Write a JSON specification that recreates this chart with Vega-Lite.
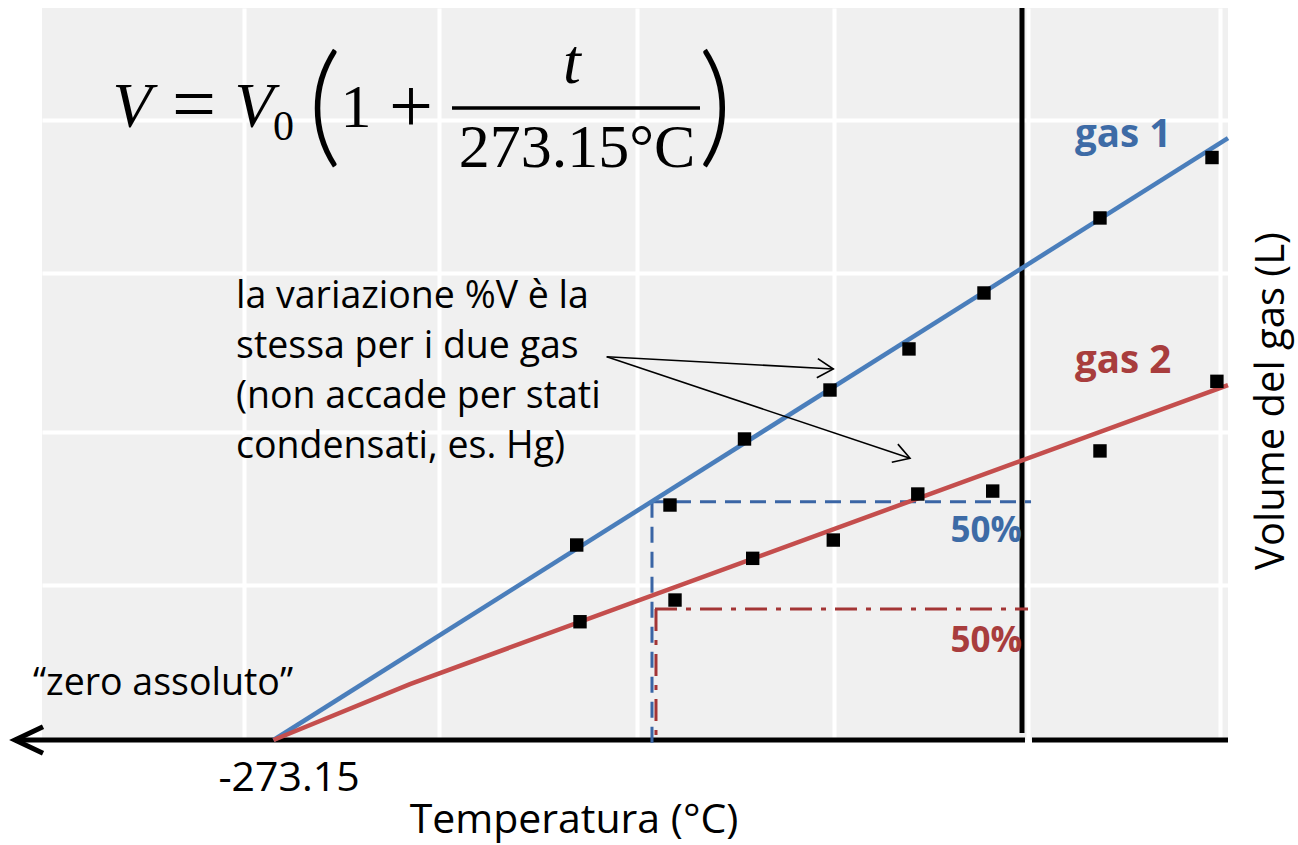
{
  "$schema": "https://vega.github.io/schema/vega-lite/v6.json",
  "width": 1186,
  "height": 732,
  "autosize": {"type": "none"},
  "padding": {"left": 42, "top": 8, "right": 70, "bottom": 105},
  "background": "#ffffff",
  "config": {"view": {"stroke": null, "fill": "#f0f0f0"}},
  "datasets": {
    "pts": [
      {"gas": "gas 1", "t": -162.5, "v": 1.258},
      {"gas": "gas 1", "t": -128.46, "v": 1.516},
      {"gas": "gas 1", "t": -101.27, "v": 1.942},
      {"gas": "gas 1", "t": -70.07, "v": 2.258},
      {"gas": "gas 1", "t": -41.24, "v": 2.523},
      {"gas": "gas 1", "t": -13.87, "v": 2.884},
      {"gas": "gas 1", "t": 28.46, "v": 3.368},
      {"gas": "gas 1", "t": 69.34, "v": 3.758},
      {"gas": "gas 2", "t": -161.3, "v": 0.763},
      {"gas": "gas 2", "t": -126.63, "v": 0.903},
      {"gas": "gas 2", "t": -98.28, "v": 1.172},
      {"gas": "gas 2", "t": -68.86, "v": 1.29},
      {"gas": "gas 2", "t": -38.03, "v": 1.587},
      {"gas": "gas 2", "t": -10.69, "v": 1.606},
      {"gas": "gas 2", "t": 28.46, "v": 1.865},
      {"gas": "gas 2", "t": 71.13, "v": 2.314}
    ],
    "curves": [
      {"gas": "gas 1", "t": -273.15, "v": 0},
      {"gas": "gas 1", "t": 75.18, "v": 3.883},
      {"gas": "gas 2", "t": -273.15, "v": 0},
      {"gas": "gas 2", "t": -223.34, "v": 0.361},
      {"gas": "gas 2", "t": 75.18, "v": 2.29}
    ],
    "frame": [
      {"t": -367.49, "v": 0, "t2": 1.09, "v2": 0},
      {"t": 3.65, "v": 0, "t2": 75.18, "v2": 0},
      {"t": 0, "v": 4.7226, "t2": 0, "v2": 0.0452}
    ],
    "axisArrow": [{"t": -367.49, "v": 0}],
    "bdash": [
      {"t": -135.76, "v": 1.537, "t2": 3.3, "v2": 1.537},
      {"t": -135.03, "v": 1.537, "t2": -135.03, "v2": -0.03}
    ],
    "rdash": [
      {"t": -133.93, "v": 0.845, "t2": 2.19, "v2": 0.845},
      {"t": -133.57, "v": 0.845, "t2": -133.57, "v2": 0}
    ],
    "arrows": [
      {"t": -151.56, "v": 2.4729, "t2": -68.86, "v2": 2.3935},
      {"t": -151.56, "v": 2.4729, "t2": -40.87, "v2": 1.8174}
    ],
    "head1": [{"t": -68.86, "v": 2.3935}],
    "head2": [{"t": -40.87, "v": 1.8174}],
    "note": [
      {"t": -286.84, "v": 2.7871, "s": "la variazione %V è la"},
      {"t": -286.84, "v": 2.4645, "s": "stessa per i due gas"},
      {"t": -286.84, "v": 2.1419, "s": "(non  accade per stati"},
      {"t": -286.84, "v": 1.8194, "s": "condensati, es. Hg)"},
      {"t": -360.92, "v": 0.2903, "s": "“zero assoluto”"}
    ],
    "axisText": [
      {"t": -267.5, "v": -0.329, "s": "-273.15"},
      {"t": -163.49, "v": -0.6, "s": "Temperatura (°C)"}
    ],
    "yTitle": [{"t": 95.6, "v": 2.187, "s": "Volume del gas (L)"}],
    "gas1": [{"t": 19.34, "v": 3.8258, "s": "gas 1"}],
    "gas2": [{"t": 19.34, "v": 2.3677, "s": "gas 2"}],
    "pct1": [{"t": 0, "v": 1.2774, "s": "50%"}],
    "pct2": [{"t": 0, "v": 0.5677, "s": "50%"}],
    "fIt": [
      {"t": -324.79, "v": 3.9548, "s": "V"},
      {"t": -280.27, "v": 3.9548, "s": "V"},
      {"t": -164.22, "v": 4.2387, "s": "t"}
    ],
    "fRm": [
      {"t": -243.05, "v": 3.9548, "s": "1"},
      {"t": -162.4, "v": 3.6968, "s": "273.15°C"}
    ],
    "fBig": [
      {"t": -302.17, "v": 3.935, "s": "="},
      {"t": -222.98, "v": 3.92, "s": "+"}
    ],
    "fSub": [{"t": -269.51, "v": 3.871, "s": "0"}],
    "fParen": [
      {"t": -254.5, "v": 3.806, "s": "("},
      {"t": -111.9, "v": 3.806, "s": ")"}
    ],
    "fBar": [{"t": -208.01, "v": 4.0774, "t2": -117.51, "v2": 4.0774}]
  },
  "encoding": {
    "x": {
      "field": "t",
      "type": "quantitative",
      "scale": {"domain": [-357.64, 75.18], "nice": false, "zero": false},
      "axis": {
        "values": [-283.92, -212.76, -140.5, -68.61, 2.19, 72.26],
        "grid": true,
        "gridColor": "#ffffff",
        "gridWidth": 4,
        "labels": false,
        "ticks": false,
        "domain": false,
        "title": null
      }
    },
    "y": {
      "field": "v",
      "type": "quantitative",
      "scale": {"domain": [0, 4.7226], "nice": false, "zero": false},
      "axis": {
        "values": [1.0, 1.987, 3.013, 4.0],
        "grid": true,
        "gridColor": "#ffffff",
        "gridWidth": 4,
        "labels": false,
        "ticks": false,
        "domain": false,
        "title": null
      }
    }
  },
  "layer": [
    {
      "data": {"name": "frame"},
      "mark": {"type": "rule", "color": "#000000", "strokeWidth": 5},
      "encoding": {"x2": {"field": "t2"}, "y2": {"field": "v2"}}
    },
    {
      "data": {"name": "axisArrow"},
      "mark": {"type": "point", "shape": "M1,-0.47L0,0L1,0.47", "filled": false, "color": "#000000", "strokeWidth": 5, "size": 3136, "opacity": 1, "strokeJoin": "miter"}
    },
    {
      "data": {"name": "bdash"},
      "mark": {"type": "rule", "color": "#3a65a5", "strokeWidth": 3, "strokeDash": [16, 9]},
      "encoding": {"x2": {"field": "t2"}, "y2": {"field": "v2"}}
    },
    {
      "data": {"name": "rdash"},
      "mark": {"type": "rule", "color": "#a33535", "strokeWidth": 3, "strokeDash": [22, 9, 5, 9]},
      "encoding": {"x2": {"field": "t2"}, "y2": {"field": "v2"}}
    },
    {
      "data": {"name": "curves"},
      "mark": {"type": "line", "strokeWidth": 4.5},
      "encoding": {
        "color": {"field": "gas", "type": "nominal", "scale": {"domain": ["gas 1", "gas 2"], "range": ["#4a7ebb", "#c44e4d"]}, "legend": null}
      }
    },
    {
      "data": {"name": "pts"},
      "mark": {"type": "point", "shape": "square", "filled": true, "color": "#000000", "size": 180, "opacity": 1}
    },
    {
      "data": {"name": "arrows"},
      "mark": {"type": "rule", "color": "#000000", "strokeWidth": 1.6},
      "encoding": {"x2": {"field": "t2"}, "y2": {"field": "v2"}}
    },
    {
      "data": {"name": "head1"},
      "mark": {"type": "point", "shape": "M-1,-0.6L0,0L-1,0.6", "filled": false, "color": "#000000", "strokeWidth": 1.6, "size": 1024, "opacity": 1, "angle": 3.1}
    },
    {
      "data": {"name": "head2"},
      "mark": {"type": "point", "shape": "M-1,-0.6L0,0L-1,0.6", "filled": false, "color": "#000000", "strokeWidth": 1.6, "size": 1024, "opacity": 1, "angle": 18.5}
    },
    {
      "data": {"name": "note"},
      "mark": {"type": "text", "font": "Open Sans", "fontSize": 37.5, "align": "left", "baseline": "alphabetic", "color": "#000000"},
      "encoding": {"text": {"field": "s"}}
    },
    {
      "data": {"name": "axisText"},
      "mark": {"type": "text", "font": "Open Sans", "fontSize": 41, "align": "center", "baseline": "alphabetic", "color": "#000000"},
      "encoding": {"text": {"field": "s"}}
    },
    {
      "data": {"name": "yTitle"},
      "mark": {"type": "text", "font": "Open Sans", "fontSize": 40, "align": "center", "baseline": "alphabetic", "angle": 270, "color": "#000000"},
      "encoding": {"text": {"field": "s"}}
    },
    {
      "data": {"name": "gas1"},
      "mark": {"type": "text", "font": "Open Sans", "fontWeight": "bold", "fontSize": 38.5, "align": "left", "baseline": "alphabetic", "color": "#3d6ba6"},
      "encoding": {"text": {"field": "s"}}
    },
    {
      "data": {"name": "gas2"},
      "mark": {"type": "text", "font": "Open Sans", "fontWeight": "bold", "fontSize": 38.5, "align": "left", "baseline": "alphabetic", "color": "#a83d3d"},
      "encoding": {"text": {"field": "s"}}
    },
    {
      "data": {"name": "pct1"},
      "mark": {"type": "text", "font": "Open Sans", "fontWeight": "bold", "fontSize": 35, "align": "right", "baseline": "alphabetic", "color": "#3d6ba6"},
      "encoding": {"text": {"field": "s"}}
    },
    {
      "data": {"name": "pct2"},
      "mark": {"type": "text", "font": "Open Sans", "fontWeight": "bold", "fontSize": 35, "align": "right", "baseline": "alphabetic", "color": "#a83d3d"},
      "encoding": {"text": {"field": "s"}}
    },
    {
      "data": {"name": "fIt"},
      "mark": {"type": "text", "font": "Liberation Serif", "fontStyle": "italic", "fontSize": 64, "align": "center", "baseline": "alphabetic", "color": "#000000"},
      "encoding": {"text": {"field": "s"}}
    },
    {
      "data": {"name": "fRm"},
      "mark": {"type": "text", "font": "Liberation Serif", "fontSize": 62, "align": "center", "baseline": "alphabetic", "color": "#000000"},
      "encoding": {"text": {"field": "s"}}
    },
    {
      "data": {"name": "fBig"},
      "mark": {"type": "text", "font": "Liberation Serif", "fontSize": 78, "align": "center", "baseline": "alphabetic", "color": "#000000"},
      "encoding": {"text": {"field": "s"}}
    },
    {
      "data": {"name": "fSub"},
      "mark": {"type": "text", "font": "Liberation Serif", "fontSize": 42, "align": "center", "baseline": "alphabetic", "color": "#000000"},
      "encoding": {"text": {"field": "s"}}
    },
    {
      "data": {"name": "fParen"},
      "mark": {"type": "text", "font": "Lato", "fontSize": 132, "fontWeight": 300, "align": "center", "baseline": "alphabetic", "color": "#000000"},
      "encoding": {"text": {"field": "s"}}
    },
    {
      "data": {"name": "fBar"},
      "mark": {"type": "rule", "color": "#000000", "strokeWidth": 3.5},
      "encoding": {"x2": {"field": "t2"}, "y2": {"field": "v2"}}
    }
  ]
}
